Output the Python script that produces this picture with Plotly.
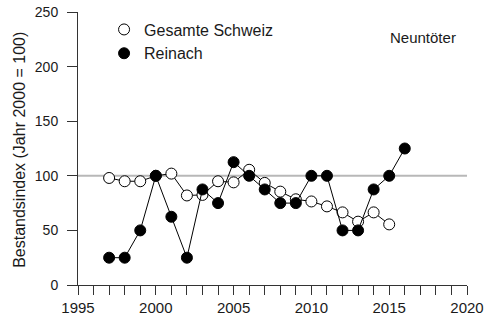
import plotly.graph_objects as go

years_ch = list(range(1997, 2016))
schweiz = [98, 95, 95, 100, 102, 82, 82.5, 95, 94, 105.5, 93.5, 85.5, 78.5, 76.5, 72, 66.5, 58, 66.5, 55.5]
years_re = list(range(1997, 2017))
reinach = [25, 25, 50, 100, 62.5, 25, 87.5, 75, 112.5, 100, 87.5, 75, 75, 100, 100, 50, 50, 87.5, 100, 125]

FONT = "Liberation Sans, Arial, sans-serif"
TXT = "#1a1a1a"

fig = go.Figure()
fig.add_shape(type="line", xref="x", yref="y", x0=1995, x1=2020, y0=100, y1=100,
              line=dict(color="#b8b8b8", width=2), layer="below")
fig.add_trace(go.Scatter(x=years_ch, y=schweiz, mode="lines+markers", showlegend=False,
                         line=dict(color="black", width=1),
                         marker=dict(size=11, color="white", line=dict(color="black", width=1))))
fig.add_trace(go.Scatter(x=years_re, y=reinach, mode="lines+markers", showlegend=False,
                         line=dict(color="black", width=1),
                         marker=dict(size=11, color="black", line=dict(color="black", width=1))))
fig.add_trace(go.Scatter(x=[None], y=[None], mode="markers", name="Gesamte Schweiz",
                         marker=dict(size=11, color="white", line=dict(color="black", width=1))))
fig.add_trace(go.Scatter(x=[None], y=[None], mode="markers", name="Reinach",
                         marker=dict(size=11, color="black", line=dict(color="black", width=1))))

fig.add_annotation(text="Neuntöter", xref="paper", yref="paper", x=0.977, y=0.905,
                   xanchor="right", yanchor="middle", showarrow=False,
                   font=dict(size=15, color=TXT, family=FONT))
fig.add_annotation(text="Bestandsindex (Jahr 2000 = 100)", xref="paper", yref="paper",
                   x=-0.152, y=0.4945, xanchor="center", yanchor="middle", textangle=-90,
                   showarrow=False, font=dict(size=16, color=TXT, family=FONT))

fig.update_layout(
    width=491, height=320,
    margin=dict(l=78, r=24, t=12, b=35, autoexpand=False),
    paper_bgcolor="white", plot_bgcolor="white",
    font=dict(family=FONT, size=14, color=TXT),
    legend=dict(x=0.067, y=0.998, xanchor="left", yanchor="top", bgcolor="rgba(0,0,0,0)",
                font=dict(size=16), itemwidth=30, tracegroupgap=0),
    xaxis=dict(range=[1995, 2020], tickvals=[1995, 2000, 2005, 2010, 2015, 2020],
               ticks="outside", ticklen=9, tickcolor="#333", showline=True, linecolor="#333",
               linewidth=1, showgrid=False, zeroline=False,
               minor=dict(ticks="outside", ticklen=9, dtick=1, tick0=1995, tickcolor="#333", showgrid=False),
               tickfont=dict(size=15)),
    yaxis=dict(range=[0, 250], tickvals=[0, 50, 100, 150, 200, 250], ticks="outside", ticklen=10,
               tickcolor="#333", showline=True, linecolor="#333", linewidth=1, showgrid=False,
               zeroline=False, tickfont=dict(size=14), ticklabelstandoff=6),
)

fig.write_html("out.html", config={"displayModeBar": False},
               post_script="document.body.style.margin='0';document.body.style.overflow='hidden';")
